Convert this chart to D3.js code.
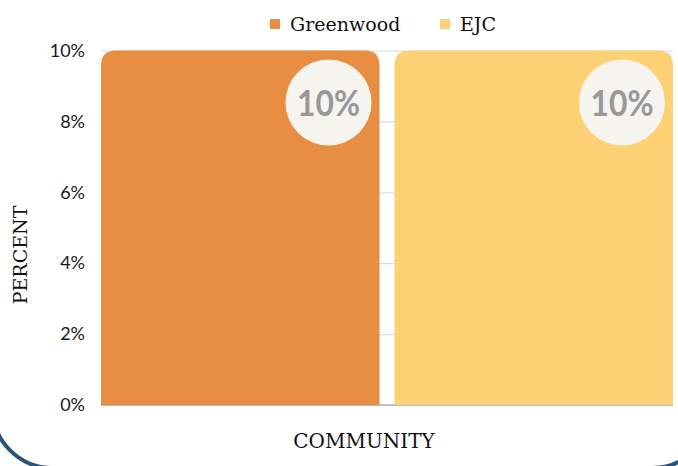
<!DOCTYPE html>
<html><head><meta charset="utf-8">
<script src="https://cdn.jsdelivr.net/npm/d3@7"></script>
<style>
html,body{margin:0;padding:0;background:#fff;overflow:hidden}
svg{display:block}
</style></head>
<body>
<svg id="chart" width="678" height="466"></svg>
<script>
const categories = ["Greenwood", "EJC"];
const values = [10, 10];
const colors = ["#E88E43", "#FDD174"];
const yTicks = [0, 2, 4, 6, 8, 10];
const xTitle = "COMMUNITY";
const yTitle = "PERCENT";

const W = 678, H = 466;
const m = {left: 101, right: 5, top: 50.5, bottom: 61};
const svg = d3.select("#chart");

// card border
svg.append("rect").attr("x", -7.5).attr("y", -200).attr("width", 719.5).attr("height", 668)
  .attr("rx", 60).attr("fill", "#fff").attr("stroke", "#2D5476").attr("stroke-width", 4);

const x = d3.scaleBand().domain(categories).range([m.left, W - m.right]).paddingInner(0.0511).paddingOuter(0);
const y = d3.scaleLinear().domain([0, 10]).range([H - m.bottom, m.top]);

// gridlines
const grid = svg.append("g").call(d3.axisLeft(y).tickValues(yTicks).tickSize(-(W - m.right - m.left)).tickFormat(""))
  .attr("transform", `translate(${m.left},0)`);
grid.select(".domain").remove();
grid.selectAll("line").attr("stroke", "#dcdcdc").attr("stroke-width", 1.2);

// baseline
svg.append("line").attr("x1", m.left).attr("x2", W - m.right).attr("y1", y(0)).attr("y2", y(0))
  .attr("stroke", "#b0b0b0").attr("stroke-width", 1.5);

// axis labels
const ax = svg.append("g").attr("transform", `translate(${m.left},0)`)
  .call(d3.axisLeft(y).tickValues(yTicks).tickSize(0).tickPadding(16).tickFormat(d => d + "%"));
ax.select(".domain").remove();
ax.selectAll("text").attr("font-family", "Lato, 'Open Sans', sans-serif").attr("font-size", 18)
  .attr("fill", "#1a1a1a");

const r = 15;
function topRounded(x0, y0, w, h, rr) {
  return `M${x0},${y0 + h}V${y0 + rr}Q${x0},${y0} ${x0 + rr},${y0}H${x0 + w - rr}Q${x0 + w},${y0} ${x0 + w},${y0 + rr}V${y0 + h}Z`;
}
const bars = svg.append("g");
categories.forEach((c, i) => {
  const x0 = x(c), w = x.bandwidth(), y0 = y(values[i]), h = y(0) - y(values[i]);
  bars.append("path").attr("d", topRounded(x0, y0, w, h, r)).attr("fill", colors[i]);
  const cx = x0 + w - 51, cy = y0 + 52;
  bars.append("circle").attr("cx", cx).attr("cy", cy).attr("r", 43).attr("fill", "#F5F4EE");
  bars.append("text").attr("x", cx).attr("y", cy + 13).attr("text-anchor", "middle")
    .attr("font-family", "Lato, sans-serif").attr("font-weight", "bold").attr("font-size", 36)
    .attr("textLength", 63).attr("lengthAdjust", "spacingAndGlyphs")
    .attr("fill", "#98989B").text(values[i] + "%");
});

// legend
const leg = svg.append("g");
const legX = [270, 440];
categories.forEach((c, i) => {
  leg.append("rect").attr("x", legX[i]).attr("y", 19).attr("width", 10).attr("height", 10).attr("fill", colors[i]);
  leg.append("text").attr("x", legX[i] + 20).attr("y", 31).attr("font-family", "'DejaVu Serif', serif")
    .attr("font-size", 19).attr("fill", "#111").text(c);
});

// titles
svg.append("text").attr("x", 364).attr("y", 448).attr("text-anchor", "middle")
  .attr("font-family", "'DejaVu Serif', serif").attr("font-size", 20).attr("fill", "#111").text(xTitle);
svg.append("text").attr("transform", `translate(27,255) rotate(-90)`).attr("text-anchor", "middle")
  .attr("font-family", "'DejaVu Serif', serif").attr("font-size", 19).attr("fill", "#111").text(yTitle);
</script>
</body></html>
